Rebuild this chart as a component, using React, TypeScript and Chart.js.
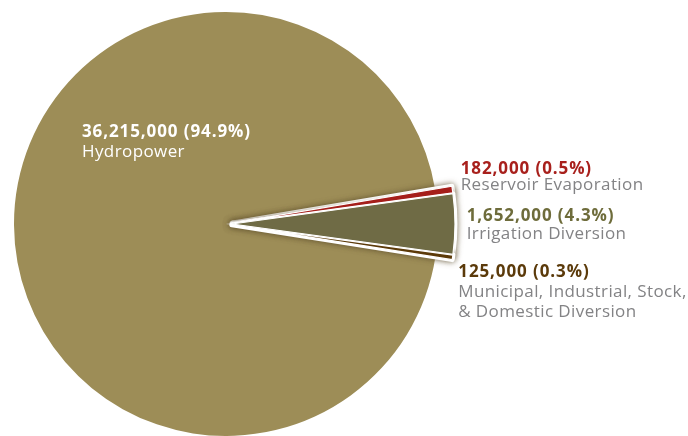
import React, { useEffect, useRef } from "react";
import { Chart, registerables } from "chart.js";

Chart.register(...registerables);

const categories = [
  "Hydropower",
  "Reservoir Evaporation",
  "Irrigation Diversion",
  "Municipal, Industrial, Stock,\n& Domestic Diversion",
];
const values = [36215000, 182000, 1652000, 125000];
const percents = ["94.9%", "0.5%", "4.3%", "0.3%"];
const sliceColors = ["#9D8D57", "#A51E1A", "#6F6B45", "#5C3A09"];
const valueColors = ["#FFFFFF", "#A8201C", "#6E6C3B", "#5B3A0A"];
const nameColors = ["#FFFFFF", "#838385", "#838385", "#838385"];

const fmt = (n: number) => n.toLocaleString("en-US");

// label placement (baseline of first line) relative to each arc's outer mid
// point, or relative to the pie centre for slice 0
const labelLayout = [
  { dx: -144, dy: -87, gap: 19.5, fromCenter: true },
  { dx: 8.3, dy: -15.3, gap: 16, fromCenter: false },
  { dx: 11.7, dy: -3, gap: 17.5, fromCenter: false },
  { dx: 5.7, dy: 19.7, gap: 20, fromCenter: false },
];

const FONT = '"Open Sans", "Noto Sans", sans-serif';
// small slices: apex pushed out by SHIFT, outer edge pushed out by OUTER_SHIFT
const SHIFT = 6;
const OUTER_SHIFT = 17;

function drawExploded(ctx: any, chart: any, el: any, opts?: any) {
  const mid = (el.startAngle + el.endAngle) / 2;
  const origR = el.outerRadius;
  const origOpts = el.options;
  if (opts) el.options = Object.assign({}, origOpts, opts);
  el.outerRadius = origR + OUTER_SHIFT - SHIFT;
  ctx.save();
  ctx.translate(Math.cos(mid) * SHIFT, Math.sin(mid) * SHIFT);
  el.draw(ctx, chart.chartArea);
  ctx.restore();
  el.outerRadius = origR;
  el.options = origOpts;
}

const drawPlugin = {
  id: "customDraw",
  beforeDatasetDraw(chart: any, args: any) {
    const ctx = chart.ctx;
    const els = args.meta.data;
    els[0].draw(ctx, chart.chartArea);
    for (let i = 1; i < els.length; i++) {
      ctx.save();
      ctx.shadowColor = "rgba(95,80,45,0.7)";
      ctx.shadowBlur = 6;
      drawExploded(ctx, chart, els[i], {
        backgroundColor: "#FFFFFF",
        borderColor: "#FFFFFF",
        borderWidth: 5,
        borderJoinStyle: "round",
      });
      ctx.restore();
    }
    for (let i = 1; i < els.length; i++) {
      drawExploded(ctx, chart, els[i]);
    }
    return false;
  },
  afterDatasetsDraw(chart: any) {
    const ctx = chart.ctx;
    const meta = chart.getDatasetMeta(0);
    meta.data.forEach((el: any, i: number) => {
      const lay = labelLayout[i];
      const { x, y, startAngle, endAngle, outerRadius } = el.getProps(
        ["x", "y", "startAngle", "endAngle", "outerRadius"],
        true
      );
      const mid = (startAngle + endAngle) / 2;
      const off = i === 0 ? 0 : OUTER_SHIFT;
      let ax: number, ay: number;
      if (lay.fromCenter) {
        ax = x;
        ay = y;
      } else {
        ax = x + Math.cos(mid) * (outerRadius + off);
        ay = y + Math.sin(mid) * (outerRadius + off);
      }
      const lx = ax + lay.dx;
      const ly = ay + lay.dy;
      ctx.save();
      ctx.textAlign = "left";
      ctx.textBaseline = "alphabetic";
      ctx.font = `bold 17px ${FONT}`;
      (ctx as any).letterSpacing = "0.9px";
      ctx.fillStyle = valueColors[i];
      ctx.fillText(`${fmt(values[i])} (${percents[i]})`, lx, ly);
      ctx.font = `17px ${FONT}`;
      (ctx as any).letterSpacing = "0.4px";
      ctx.fillStyle = nameColors[i];
      const lines = categories[i].split("\n");
      lines.forEach((ln, k) => {
        ctx.fillText(ln, lx, ly + lay.gap + 20 * k);
      });
      ctx.restore();
    });
  },
};

export default function App() {
  const ref = useRef<HTMLCanvasElement | null>(null);
  useEffect(() => {
    if (!ref.current) return;
    const total = values.reduce((a, b) => a + b, 0);
    const midFrac = (values[0] + values[1] + values[2] / 2) / total;
    const chart = new Chart(ref.current, {
      type: "pie",
      data: {
        labels: categories,
        datasets: [
          {
            data: values,
            backgroundColor: sliceColors,
            borderColor: "#FFFFFF",
            borderWidth: [0, 1.2, 1.2, 1.2],
            offset: 0,
            hoverOffset: 0,
            radius: 212,
          } as any,
        ],
      },
      options: {
        responsive: false,
        animation: false,
        rotation: 90 - midFrac * 360,
        radius: 212,
        layout: { padding: { left: 0, right: 236, top: 12, bottom: 0 } },
        plugins: {
          legend: { display: false },
          tooltip: { enabled: false },
        },
      } as any,
      plugins: [drawPlugin],
    });
    return () => chart.destroy();
  }, []);
  return (
    <div style={{ position: "fixed", left: 0, top: 0, width: 688, height: 436, background: "#fff" }}>
      <canvas ref={ref} width={688} height={436} />
    </div>
  );
}
